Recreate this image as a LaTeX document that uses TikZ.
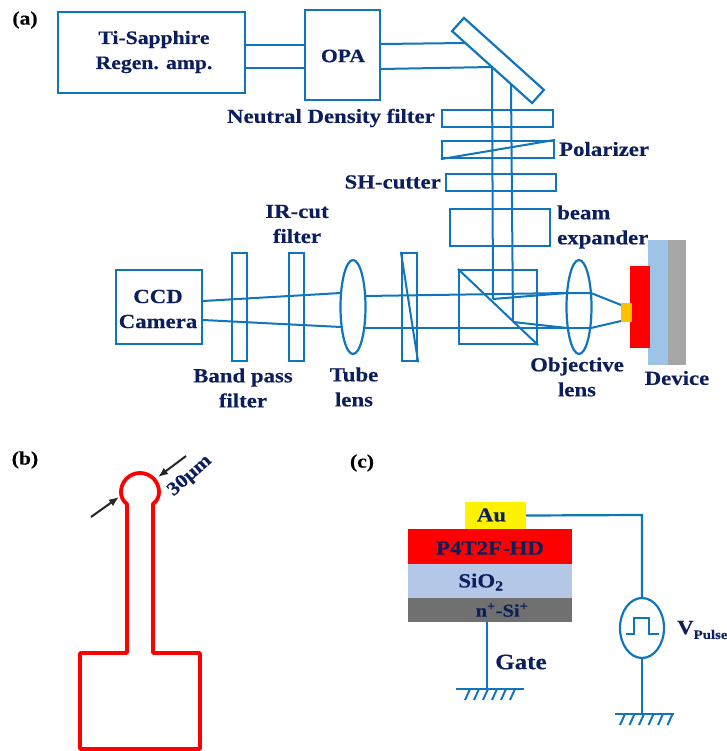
\documentclass[tikz,border=0pt]{standalone}
\usepackage{fontspec}
\setmainfont[FakeStretch=1.14,BoldFeatures={FakeBold=0.3}]{Liberation Serif}
\usetikzlibrary{shapes.geometric,arrows.meta}
\definecolor{beamblue}{HTML}{0F75BC}
\definecolor{labelnavy}{HTML}{0C1F5C}
\definecolor{devblue}{HTML}{9DC3E6}
\definecolor{devgray}{HTML}{A6A6A6}
\definecolor{stackblue}{HTML}{B4C7E7}
\definecolor{stackgray}{HTML}{707070}
\definecolor{spotorange}{HTML}{FFC000}
\tikzset{
	optbox/.style={rectangle, draw=beamblue, line width=2.2pt, inner sep=0pt},
	optlens/.style={ellipse, draw=beamblue, line width=2.2pt, inner sep=0pt, minimum width=25, minimum height=94},
	layer/.style={rectangle, inner sep=0pt, draw=none},
	beam/.style={draw=beamblue, line width=2pt},
	wire/.style={draw=beamblue, line width=2.2pt},
	lbl/.style={text=labelnavy, font=\bfseries\fontsize{20}{25}\selectfont, align=center, inner sep=0pt},
	panel/.style={text=black, font=\bfseries\fontsize{19}{22}\selectfont, inner sep=0pt},
	mask/.style={draw=red, line width=3.8pt},
	pointer/.style={draw=black!85, line width=2pt, -{Latex[length=10pt,width=8pt]}}
}
\begin{document}
\begin{tikzpicture}[x=1pt, y=-1pt]
		\useasboundingbox (0,0) rectangle (726,751);

		% Panel a: boxes
		\node[optbox, minimum width=187, minimum height=81] (tisa) at (151.5,52.5) {};
		\node[lbl, font=\bfseries\fontsize{19}{25}\selectfont] (tisalbl) at (154,52) {Ti-Sapphire\\Regen. amp.};
		\node[optbox, minimum width=75, minimum height=90] (opa) at (342.5,55) {};
		\node[lbl, font=\bfseries\fontsize{19}{25}\selectfont] (opalbl) at (343,56) {OPA};
		\node[optbox, rotate=-42, minimum width=107.6, minimum height=17.7] (mirror) at (498,60.5) {};
		\node[optbox, minimum width=111, minimum height=17] (nd) at (497.5,118.5) {};
		\node[optbox, minimum width=112, minimum height=17] (pol) at (498,149.5) {};
		\node[optbox, minimum width=110, minimum height=17] (shc) at (501,182.5) {};
		\node[optbox, minimum width=100, minimum height=37] (bexp) at (500,227.5) {};
		\node[optbox, minimum width=78, minimum height=74] (cube) at (498,307) {};
		\node[optlens] (objl) at (579,307) {};
		\node[optbox, minimum width=15, minimum height=108] (prism) at (409.5,307) {};
		\node[optlens] (tubel) at (353,307) {};
		\node[optbox, minimum width=15, minimum height=108] (irc) at (296.5,307) {};
		\node[optbox, minimum width=15, minimum height=108] (bpf) at (239.5,307) {};
		\node[optbox, minimum width=86, minimum height=74] (ccd) at (159,307) {};
		\node[lbl] (ccdlbl) at (158,309) {CCD\\Camera};

		% Device
		\node[layer, fill=devblue, minimum width=20, minimum height=125] (devb) at (658,302.5) {};
		\node[layer, fill=devgray, minimum width=18, minimum height=125] (devg) at (677,302.5) {};
		\node[layer, fill=red, minimum width=20, minimum height=82] (devr) at (640,307) {};
		\node[layer, fill=spotorange, minimum width=11, minimum height=19] (spot) at (626.5,312.5) {};

		% Beam points
		\coordinate (m1) at (466,43);
		\coordinate (m2) at (492,67);
		\coordinate (m3) at (511,85);
		\coordinate (sp1) at (493,299);
		\coordinate (sp2) at (513,322);
		\coordinate (l1a) at (567,293);
		\coordinate (l1b) at (591,293);
		\coordinate (l2a) at (567,328);
		\coordinate (l2b) at (591,328);
		\coordinate (s1) at (621,305);
		\coordinate (s2) at (621,321);
		\coordinate (t1a) at (341,293);
		\coordinate (t1b) at (365,296);
		\coordinate (t2a) at (341,327);
		\coordinate (t2b) at (365,328);

		% Connect
		\draw[beam] (tisa.east |- 0,45) -- (opa.west |- 0,45);
		\draw[beam] (tisa.east |- 0,68) -- (opa.west |- 0,68);
		\draw[beam] (opa.east |- 0,44) -- (m1);
		\draw[beam] (opa.east |- 0,69) -- (m2);
		\draw[beam] (m2) -- (sp1);
		\draw[beam] (m3) -- (sp2);
		\draw[beam] (sp1) -- (l1a) -- (l1b) -- (s1);
		\draw[beam] (sp2) -- (l2a) -- (l2b) -- (s2);
		\draw[beam] (t1b) -- (l1a);
		\draw[beam] (t2b) -- (l2a);
		\draw[beam] (ccd.east |- 0,301) -- (t1a);
		\draw[beam] (ccd.east |- 0,320) -- (t2a);
		\draw[beam] (pol.south west) -- (pol.north east);
		\draw[beam] (cube.north west) -- (cube.south east);
		\draw[beam] (prism.north west) -- (prism.south east);

		% Labels
		\node[lbl, anchor=east] (ndlbl) at (435,118) {Neutral Density filter};
		\node[lbl, anchor=west] (pollbl) at (559,149) {Polarizer};
		\node[lbl, anchor=east] (shclbl) at (441,182) {SH-cutter};
		\node[lbl, anchor=west, align=left] (bexplbl) at (557,227) {beam\\expander};
		\node[lbl] (irclbl) at (297,224) {IR-cut\\filter};
		\node[lbl] (bpflbl) at (243,388) {Band pass\\filter};
		\node[lbl] (tubelbl) at (354,387) {Tube\\lens};
		\node[lbl] (objlbl) at (577,377) {Objective\\lens};
		\node[lbl] (devlbl) at (677,378) {Device};
		\node[panel] (pa) at (25,20) {(a)};
		\node[panel] (pb) at (25,460) {(b)};
		\node[panel] (pc) at (362,463) {(c)};

		% Panel b
		\coordinate (boxl) at (80,653);
		\coordinate (boxr) at (200,653);
		\coordinate (neckl) at (127,653);
		\coordinate (neckr) at (153,653);
		\draw[mask, line join=round] (neckl) -- (127,504) .. controls (123,501) and (121,497) .. (121,492)
			.. controls (121,481.5) and (129.5,473) .. (140,473) .. controls (150.5,473) and (159,481.5) .. (159,492)
			.. controls (159,497) and (157,501) .. (153,504) -- (neckr) -- (boxr) -- (200,749) -- (80,749) -- (boxl) -- cycle;
		\coordinate (p1a) at (91,517);
		\coordinate (p1b) at (119,497);
		\coordinate (p2a) at (186,456);
		\coordinate (p2b) at (158,477);
		\draw[pointer] (p1a) -- (p1b);
		\draw[pointer] (p2a) -- (p2b);
		\node[lbl, rotate=42, font=\bfseries\fontsize{19}{22}\selectfont] (umlbl) at (190,476) {30μm};

		% Panel c
		\node[layer, fill=yellow, minimum width=61, minimum height=27] (au) at (495.5,515.5) {};
		\node[layer, fill=red, minimum width=164, minimum height=35] (p4t) at (490,546.5) {};
		\node[layer, fill=stackblue, minimum width=164, minimum height=34] (sio) at (490,581) {};
		\node[layer, fill=stackgray, minimum width=164, minimum height=24] (nsi) at (490,610) {};
		\node[lbl] (aulbl) at (491.5,515) {Au};
		\node[lbl] (p4tlbl) at (490,548) {P4T2F-HD};
		\node[lbl] (siolbl) at (481,582) {SiO\textsubscript{2}};
		\node[lbl, font=\bfseries\fontsize{18}{20}\selectfont] (nsilbl) at (502,610) {n\textsuperscript{+}-Si\textsuperscript{+}};
		\node[ellipse, draw=beamblue, line width=2.2pt, inner sep=0pt, minimum width=44, minimum height=60] (src) at (642,628) {};
		\draw[wire] (626,634) -- (634,634) -- (634,618) -- (649,618) -- (649,634) -- (659,634);
		\node[lbl, anchor=west, font=\bfseries\fontsize{20}{22}\selectfont] (vlbl) at (677,630) {V\raisebox{-5pt}{\fontsize{13}{13}\selectfont Pulse}};
		\node[lbl, anchor=west, font=\bfseries\fontsize{22}{22}\selectfont] (gatelbl) at (495,662) {Gate};
		\coordinate (corner) at (642,515);
		\coordinate (gnd1) at (487,689);
		\coordinate (gnd2) at (642,714);
		\draw[wire] (au.east) -- (corner) -- (src.north);
		\draw[wire] (src.south) -- (gnd2);
		\draw[wire] (nsi.south -| gnd1) -- (gnd1);
		\draw[wire] (456,689) -- (524,689);
		\draw[wire] (615,714) -- (674,714);
		\foreach \i in {0,1,...,5} {
			\draw[wire, line width=2pt] ({470+\i*9},689) -- ++(-5,11);
			\draw[wire, line width=2pt] ({625+\i*9.5},714) -- ++(-5,11);
		}

	\end{tikzpicture}
\end{document}
